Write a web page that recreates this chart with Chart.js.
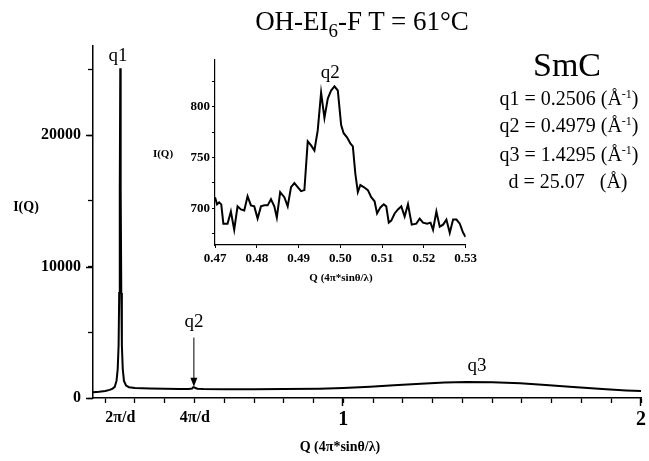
<!DOCTYPE html>
<html lang="en">
<head>
<meta charset="UTF-8" />
<title>OH-EI6-F T = 61°C</title>
<script src="https://cdn.jsdelivr.net/npm/chart.js"></script>
<style>
  body { margin: 0; background: #fff; font-family: 'Liberation Serif', 'Times New Roman', serif; }
  #wrap { position: relative; width: 649px; height: 461px; overflow: hidden; }
  #mainChart { position: absolute; left: 0; top: 0; }
  #insetChart { position: absolute; left: 150px; top: 50px; }
  .txt { position: absolute; white-space: nowrap; color: #000; line-height: 1; }
  .c { transform: translateX(-50%); }
  sup { font-size: 60%; vertical-align: 0.6em; line-height: 0; }
  sub { font-size: 70%; vertical-align: -0.35em; line-height: 0; }
</style>
</head>
<body>
<div id="wrap">
  <canvas id="mainChart" width="649" height="461"></canvas>
  <canvas id="insetChart" width="330" height="240"></canvas>

  <div class="txt c" style="left:362px; top:8px; font-size:27px;">OH-EI<sub>6</sub>-F T = 61°C</div>

  <div class="txt c" style="left:567px; top:48px; font-size:34px;">SmC</div>
  <div class="txt c" style="left:569px; top:88px; font-size:20px;">q1 = 0.2506 (Å<sup>-1</sup>)</div>
  <div class="txt c" style="left:569px; top:115px; font-size:20px;">q2 = 0.4979 (Å<sup>-1</sup>)</div>
  <div class="txt c" style="left:569px; top:144px; font-size:20px;">q3 = 1.4295 (Å<sup>-1</sup>)</div>
  <div class="txt c" style="left:568px; top:171px; font-size:20px;">d = 25.07 &nbsp; (Å)</div>

  <div class="txt c" style="left:26px; top:200px; font-size:14px; font-weight:bold;">I(Q)</div>
  <div class="txt c" style="left:340px; top:440px; font-size:14px; font-weight:bold;">Q (4π*sinθ/λ)</div>

  <div class="txt c" style="left:163px; top:148px; font-size:11px; font-weight:bold;">I(Q)</div>
  <div class="txt c" style="left:341px; top:272px; font-size:11px; font-weight:bold;">Q (4π*sinθ/λ)</div>
</div>

<script>
  // main scan
  const mainQ = [0.159, 0.18, 0.20, 0.215, 0.225, 0.232, 0.238, 0.242, 0.245, 0.247, 0.249, 0.2506,
                 0.252, 0.254, 0.256, 0.259, 0.263, 0.270, 0.280, 0.300, 0.350, 0.400, 0.450, 0.480,
                 0.492, 0.4955, 0.499, 0.503, 0.510, 0.530, 0.60, 0.70, 0.80, 0.92, 1.00, 1.09,
                 1.17, 1.26, 1.34, 1.415, 1.50, 1.594, 1.68, 1.76, 1.87, 1.95, 2.00];
  const mainI = [430, 470, 540, 620, 720, 850, 1300, 2200, 4000, 8000, 16000, 25100,
                 16000, 8000, 4000, 2200, 1300, 950, 820, 760, 720, 700, 690, 690,
                 720, 814, 820, 760, 700, 680, 660, 665, 680, 710, 760, 860,
                 970, 1090, 1180, 1220, 1190, 1120, 990, 860, 680, 580, 530];

  // inset: zoom on q2
  const insetQ = [0.4700, 0.4705, 0.4710, 0.4715, 0.4720, 0.4725, 0.4730, 0.4738, 0.4746, 0.4754,
                  0.4762, 0.4770, 0.4778, 0.4786, 0.4794, 0.4802, 0.4810, 0.4818, 0.4826, 0.4834,
                  0.4842, 0.4848, 0.4856, 0.4866, 0.4874, 0.4882, 0.4890, 0.4898, 0.4906, 0.4914,
                  0.4922, 0.4930, 0.4938, 0.4946, 0.4954, 0.4962, 0.4970, 0.4978, 0.4986, 0.4994,
                  0.5002, 0.5008, 0.5016, 0.5024, 0.5030, 0.5036, 0.5042, 0.5048, 0.5056, 0.5066,
                  0.5074, 0.5082, 0.5088, 0.5096, 0.5104, 0.5110, 0.5116, 0.5122, 0.5130, 0.5138,
                  0.5146, 0.5154, 0.5162, 0.5171, 0.5182, 0.5190, 0.5198, 0.5208, 0.5216, 0.5222,
                  0.5230, 0.5238, 0.5246, 0.5254, 0.5262, 0.5270, 0.5278, 0.5286, 0.5294, 0.5300];
  const insetI = [711, 704, 706, 704, 685, 685, 685, 697, 679, 702,
                  699, 698, 712, 703, 702, 690, 702, 703, 703, 709,
                  702, 691, 716, 711, 702, 721, 725, 721, 717, 718,
                  766, 762, 757, 777, 814, 789, 808, 816, 820, 816,
                  782, 774, 770, 764, 761, 734, 716, 723, 721, 718,
                  711, 707, 695, 701, 704, 702, 686, 688, 695, 699,
                  702, 692, 704, 684, 685, 690, 686, 685, 686, 679,
                  697, 682, 684, 689, 676, 689, 689, 685, 676, 672];

  const mainXTicks = [0.2, 0.3, 0.4, 0.5, 0.6, 0.7, 0.8, 0.9, 1.0, 1.1, 1.2, 1.3, 1.4, 1.5, 1.6, 1.7, 1.8, 1.9, 2.0];
  const mainXMajor = [1, 2];
  const mainXLabelAt = [0.2506, 0.5013, 1, 2];
  const mainXLabels = ['2π/d', '4π/d', '1', '2'];
  const mainYTicks = [0, 5000, 10000, 15000, 20000, 25000];
  const mainYLabelled = [0, 10000, 20000];
  const insetXTicks = [0.47, 0.48, 0.49, 0.50, 0.51, 0.52, 0.53];
  const insetYTicks = [675, 700, 725, 750, 775, 800, 825];
  const insetYLabelled = [700, 750, 800];

  const near = (a, b) => Math.abs(a - b) < 1e-6;
  const toPoints = (xs, ys) => xs.map((x, i) => ({ x: x, y: ys[i] }));
  const serif = "'Liberation Serif', 'Times New Roman', serif";

  // peak labels, the q2 arrow and the longer major ticks
  const peakNotes = {
    id: 'peakNotes',
    afterDatasetsDraw(chart) {
      const { ctx, chartArea, scales: { x, y } } = chart;
      ctx.save();
      ctx.fillStyle = '#000';
      ctx.strokeStyle = '#000';
      ctx.font = '19px ' + serif;
      ctx.textAlign = 'center';
      ctx.textBaseline = 'middle';
      ctx.fillText('q1', x.getPixelForValue(0.243), y.getPixelForValue(26000));
      ctx.fillText('q2', x.getPixelForValue(0.4979), y.getPixelForValue(5800));
      ctx.fillText('q3', x.getPixelForValue(1.449), y.getPixelForValue(2450));

      const ax = x.getPixelForValue(0.4979);
      const y0 = y.getPixelForValue(4600);
      const y1 = y.getPixelForValue(850);
      ctx.lineWidth = 1;
      ctx.beginPath();
      ctx.moveTo(ax, y0);
      ctx.lineTo(ax, y1 - 7);
      ctx.stroke();
      ctx.beginPath();
      ctx.moveTo(ax - 3.5, y1 - 9);
      ctx.lineTo(ax + 3.5, y1 - 9);
      ctx.lineTo(ax, y1);
      ctx.closePath();
      ctx.fill();

      ctx.lineWidth = 1.4;
      ctx.beginPath();
      mainXMajor.forEach(v => {
        const px = Math.round(x.getPixelForValue(v)) - 0.5;
        ctx.moveTo(px, chartArea.bottom);
        ctx.lineTo(px, chartArea.bottom + 8);
      });
      mainYLabelled.forEach(v => {
        const py = Math.round(y.getPixelForValue(v)) + 0.5;
        ctx.moveTo(chartArea.left, py);
        ctx.lineTo(chartArea.left - 7, py);
      });
      ctx.stroke();
      ctx.restore();
    }
  };

  const insetNote = {
    id: 'insetNote',
    afterDatasetsDraw(chart) {
      const { ctx, scales: { x, y } } = chart;
      ctx.save();
      ctx.fillStyle = '#000';
      ctx.font = '19px ' + serif;
      ctx.textAlign = 'center';
      ctx.textBaseline = 'middle';
      ctx.fillText('q2', x.getPixelForValue(0.4976), y.getPixelForValue(833));
      ctx.restore();
    }
  };

  new Chart(document.getElementById('mainChart'), {
    type: 'scatter',
    data: {
      datasets: [{
        data: toPoints(mainQ, mainI),
        showLine: true,
        borderColor: '#000',
        borderWidth: 2,
        pointRadius: 0,
        tension: 0
      }]
    },
    options: {
      responsive: false,
      animation: false,
      events: [],
      layout: { padding: { left: 0, right: 8, top: 46, bottom: 0 } },
      plugins: { legend: { display: false }, tooltip: { enabled: false } },
      scales: {
        x: {
          type: 'linear',
          min: 0.159,
          max: 2.0,
          afterBuildTicks: (s) => {
            s.ticks = mainXTicks.map(v => ({ value: v }))
              .concat([{ value: 0.2506 }, { value: 0.5013 }]);
          },
          afterFit: (s) => { s.height = 63; },
          grid: {
            drawOnChartArea: false,
            drawTicks: true,
            tickLength: 5,
            tickWidth: 1.3,
            tickColor: (c) => (near(c.tick.value, 0.2506) || near(c.tick.value, 0.5013)) ? 'rgba(0,0,0,0)' : '#000'
          },
          border: { display: true, color: '#000', width: 1.5 },
          ticks: {
            autoSkip: false,
            maxRotation: 0,
            padding: 5,
            color: '#000',
            font: (c) => {
              const v = c.tick ? c.tick.value : 0;
              return { family: serif, weight: 'bold', size: (near(v, 1) || near(v, 2)) ? 20 : 16 };
            },
            callback: (v) => {
              const i = mainXLabelAt.findIndex(t => near(t, v));
              return i >= 0 ? mainXLabels[i] : '';
            }
          }
        },
        y: {
          min: 0,
          max: 26800,
          afterBuildTicks: (s) => { s.ticks = mainYTicks.map(v => ({ value: v })); },
          afterFit: (s) => { s.width = 93; },
          grid: { drawOnChartArea: false, drawTicks: true, tickLength: 5, tickWidth: 1.3, tickColor: '#000' },
          border: { display: true, color: '#000', width: 1.5 },
          ticks: {
            padding: 7,
            color: '#000',
            font: { family: serif, weight: 'bold', size: 16 },
            callback: (v) => mainYLabelled.includes(v) ? String(v) : ''
          }
        }
      }
    },
    plugins: [peakNotes]
  });

  new Chart(document.getElementById('insetChart'), {
    type: 'scatter',
    data: {
      datasets: [{
        data: toPoints(insetQ, insetI),
        showLine: true,
        borderColor: '#000',
        borderWidth: 2,
        pointRadius: 0,
        tension: 0
      }]
    },
    options: {
      responsive: false,
      animation: false,
      events: [],
      layout: { padding: { left: 0, right: 14, top: 10, bottom: 0 } },
      plugins: { legend: { display: false }, tooltip: { enabled: false } },
      scales: {
        x: {
          type: 'linear',
          min: 0.47,
          max: 0.53,
          afterBuildTicks: (s) => { s.ticks = insetXTicks.map(v => ({ value: v })); },
          afterFit: (s) => { s.height = 45; },
          grid: { drawOnChartArea: false, drawTicks: true, tickLength: 3, tickColor: '#000' },
          border: { display: true, color: '#000', width: 1.2 },
          ticks: {
            autoSkip: false,
            maxRotation: 0,
            padding: 3,
            color: '#000',
            font: { family: serif, weight: 'bold', size: 13 },
            callback: (v) => v.toFixed(2)
          }
        },
        y: {
          min: 664,
          max: 846,
          afterBuildTicks: (s) => { s.ticks = insetYTicks.map(v => ({ value: v })); },
          afterFit: (s) => { s.width = 65; },
          grid: { drawOnChartArea: false, drawTicks: true, tickLength: 3, tickColor: '#000' },
          border: { display: true, color: '#000', width: 1.2 },
          ticks: {
            padding: 2,
            color: '#000',
            font: { family: serif, weight: 'bold', size: 13 },
            callback: (v) => insetYLabelled.includes(v) ? String(v) : ''
          }
        }
      }
    },
    plugins: [insetNote]
  });
</script>
</body>
</html>
